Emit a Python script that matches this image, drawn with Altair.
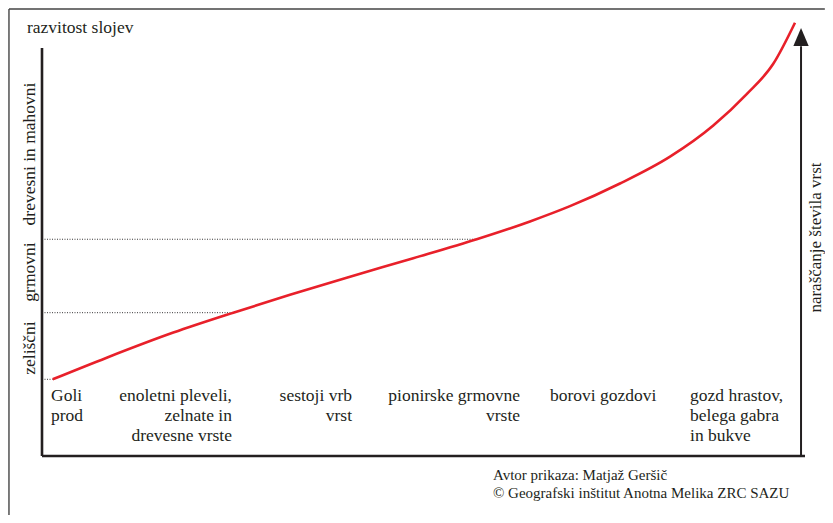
import altair as alt
import pandas as pd

# ---- data (x: 0-100 along succession axis, y: 0-100 layer development) ----
curve_x = [1.40, 8.48, 17.21, 25.07, 32.50, 39.93, 48.66, 56.97, 63.96, 69.20, 75.75, 82.31, 87.98, 92.36, 95.84, 98.69]
curve_y = [17.59, 22.55, 28.31, 32.87, 36.96, 40.90, 45.35, 49.71, 53.80, 57.30, 62.50, 68.66, 75.80, 83.00, 89.95, 99.38]

level_y = [17.59, 32.87, 49.71]
level_x_end = [1.40, 25.07, 56.97]

layer_names = ["zeliščni", "grmovni", "drevesni in mahovni"]
layer_y = [24.77, 42.2, 69.27]

cat_left_labels = ["Goli\nprod", "borovi gozdovi", "gozd hrastov,\nbelega gabra\nin bukve"]
cat_left_x = [1.18, 66.58, 84.93]
cat_right_labels = ["enoletni pleveli,\nzelnate in\ndrevesne vrste", "sestoji vrb\nvrst", "pionirske grmovne\nvrste"]
cat_right_x = [24.9, 40.63, 62.65]
cat_y = 12.61

y_title = "razvitost slojev"
right_title = "naraščanje števila vrst"
footer_lines = ["Avtor prikaza: Matjaž Geršič", "© Geografski inštitut Anotna Melika ZRC SAZU"]
footer_y = [-5.5, -9.6]

FONT = "Liberation Serif"
INK = "#231f20"
RED = "#e8202a"

xs = alt.Scale(domain=[0, 100], nice=False, zero=False)
ys = alt.Scale(domain=[0, 100], nice=False, zero=False)

def X(f="x"):
    return alt.X(f, type="quantitative", scale=xs, axis=None)

def Y(f="y"):
    return alt.Y(f, type="quantitative", scale=ys, axis=None)

curve = alt.Chart(pd.DataFrame({"x": curve_x, "y": curve_y})).mark_line(
    color=RED, strokeWidth=2.6, interpolate="monotone"
).encode(x=X(), y=Y())

levels = alt.Chart(pd.DataFrame({"x": [0] * 3, "x2": level_x_end, "y": level_y})).mark_rule(
    color=INK, strokeWidth=0.9, strokeDash=[1, 1.5]
).encode(x=X(), x2="x2", y=Y())

axes_df = pd.DataFrame({
    "x": [0, 0, 99.48],
    "x2": [0, 100, 99.48],
    "y": [0, 0, 0],
    "y2": [93.6, 0, 94.0],
})
left_axis = alt.Chart(axes_df.iloc[[0]]).mark_rule(color=INK, strokeWidth=2.6).encode(
    x=X(), x2="x2", y=Y(), y2="y2")
bottom_axis = alt.Chart(axes_df.iloc[[1]]).mark_rule(color=INK, strokeWidth=2.6).encode(
    x=X(), x2="x2", y=Y(), y2="y2")
right_axis = alt.Chart(axes_df.iloc[[2]]).mark_rule(color=INK, strokeWidth=2.0).encode(
    x=X(), x2="x2", y=Y(), y2="y2")
arrow = alt.Chart(pd.DataFrame({"x": [99.48], "y": [96.1]})).mark_point(
    shape="M-0.85,1L0,-1L0.85,1Z", filled=True, size=324, color=INK, opacity=1, strokeWidth=0
).encode(x=X(), y=Y())

frame_df = pd.DataFrame({"x": [-4.33, -4.33], "x2": [-4.33, 102.6], "y": [-13.53, 102.52], "y2": [102.52, 102.52]})
frame = alt.Chart(frame_df).mark_rule(color="#444444", strokeWidth=1.4).encode(
    x=X(), x2="x2", y=Y(), y2="y2")

ytitle = alt.Chart(pd.DataFrame({"x": [-1.97], "y": [97.0], "t": [y_title]})).mark_text(
    font=FONT, fontSize=17.5, color=INK, align="left", baseline="alphabetic"
).encode(x=X(), y=Y(), text="t")

layer_lbl = alt.Chart(pd.DataFrame({"x": [-1.57] * 3, "y": layer_y, "t": layer_names})).mark_text(
    font=FONT, fontSize=17.5, color=INK, angle=270, align="center", baseline="middle"
).encode(x=X(), y=Y(), text="t")

right_lbl = alt.Chart(pd.DataFrame({"x": [101.45], "y": [50.1], "t": [right_title]})).mark_text(
    font=FONT, fontSize=17, color=INK, angle=270, align="center", baseline="middle"
).encode(x=X(), y=Y(), text="t")

cat_l = alt.Chart(pd.DataFrame({"x": cat_left_x, "y": [cat_y] * 3, "t": cat_left_labels})).mark_text(
    font=FONT, fontSize=17.5, color=INK, align="left", baseline="alphabetic", lineBreak="\n", lineHeight=20
).encode(x=X(), y=Y(), text="t")

cat_r = alt.Chart(pd.DataFrame({"x": cat_right_x, "y": [cat_y] * 3, "t": cat_right_labels})).mark_text(
    font=FONT, fontSize=17.5, color=INK, align="right", baseline="alphabetic", lineBreak="\n", lineHeight=20
).encode(x=X(), y=Y(), text="t")

foot = alt.Chart(pd.DataFrame({"x": [59.1, 59.1], "y": footer_y, "t": footer_lines})).mark_text(
    font=FONT, fontSize=15, color=INK, align="left", baseline="alphabetic"
).encode(x=X(), y=Y(), text="t")

chart = alt.layer(
    frame, levels, left_axis, bottom_axis, right_axis, arrow, curve,
    ytitle, layer_lbl, right_lbl, cat_l, cat_r, foot
).properties(
    width=763, height=436,
    autosize=alt.AutoSizeParams(type="none"),
    padding={"left": 34, "top": 12, "right": 20, "bottom": 59},
    background="white",
).configure_view(stroke=None)

chart.save("out.html", embed_options={"renderer": "svg", "actions": False})
